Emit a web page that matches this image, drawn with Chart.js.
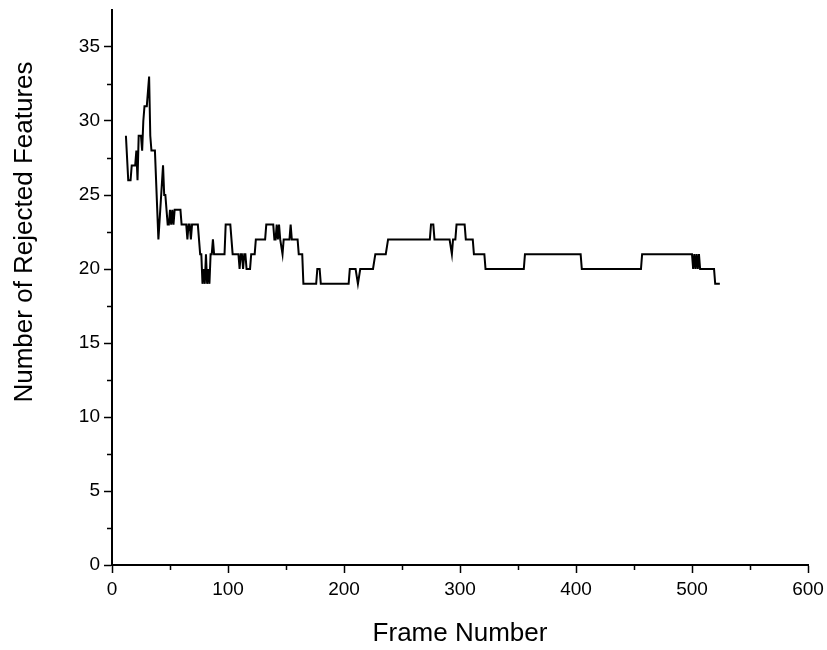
<!DOCTYPE html>
<html>
<head>
<meta charset="utf-8">
<script src="https://cdn.jsdelivr.net/npm/chart.js@4.4.1/dist/chart.umd.min.js"></script>
<style>
  html, body { margin: 0; padding: 0; background: #fff; }
  #wrap { width: 827px; height: 650px; }
</style>
</head>
<body>
<div id="wrap"><canvas id="c" width="827" height="650"></canvas></div>
<script>
// ---- Data ----
const frames = [
  12, 14, 16, 17, 20, 21, 22, 23, 25, 26, 27, 28, 30, 32, 33, 34, 37, 40, 44, 45,
  46, 47, 48, 49, 50, 51, 52, 53, 54, 59, 60, 64, 65, 66, 67, 68, 69, 74, 76, 77,
  78, 79, 80, 81, 82, 83, 84, 85, 86, 87, 88, 97, 98, 102, 104, 109, 110, 111, 112, 113,
  114, 115, 116, 119, 120, 123, 124, 132, 133, 139, 140, 141, 142, 143, 144, 145, 147, 148, 153, 154,
  155, 160, 161, 164, 165, 176, 177, 179, 180, 204, 205, 210, 212, 214, 225, 227, 236, 238, 274, 275,
  277, 278, 291, 293, 294, 296, 297, 304, 305, 311, 312, 321, 322, 355, 356, 404, 405, 456, 457, 500,
  501, 502, 503, 504, 505, 506, 507, 519, 520, 524
];
const rejected = [
  29, 26, 26, 27, 27, 28, 26, 29, 29, 28, 30, 31, 31, 33, 29, 28, 28, 22, 27, 25,
  25, 24, 23, 23, 24, 23, 24, 23, 24, 24, 23, 23, 22, 23, 23, 22, 23, 23, 21, 21,
  19, 20, 19, 21, 19, 20, 19, 21, 21, 22, 21, 21, 23, 23, 21, 21, 20, 21, 21, 20,
  21, 21, 20, 20, 21, 21, 22, 22, 23, 23, 22, 22, 23, 22, 23, 22, 21, 22, 22, 23,
  22, 22, 21, 21, 19, 19, 20, 20, 19, 19, 20, 20, 19, 20, 20, 21, 21, 22, 22, 23,
  23, 22, 22, 21, 22, 22, 23, 23, 22, 22, 21, 21, 20, 20, 21, 21, 20, 20, 21, 21,
  20, 21, 20, 21, 20, 21, 20, 20, 19, 19
];
const xTickValues = [0, 100, 200, 300, 400, 500, 600];
const xMinorTicks = [50, 150, 250, 350, 450, 550];
const yTickValues = [0, 5, 10, 15, 20, 25, 30, 35];
const yMinorTicks = [2.5, 7.5, 12.5, 17.5, 22.5, 27.5, 32.5];
const xTitle = 'Frame Number';
const yTitle = 'Number of Rejected Features';

const FONT = '"Liberation Sans", Arial, sans-serif';

// minor ticks drawn through the scales
const minorTicks = {
  id: 'minorTicks',
  afterDraw(chart) {
    const ctx = chart.ctx;
    const xs = chart.scales.x, ys = chart.scales.y;
    ctx.save();
    ctx.strokeStyle = '#000';
    ctx.lineWidth = 1.5;
    ctx.beginPath();
    xMinorTicks.forEach(v => {
      const px = Math.round(xs.getPixelForValue(v)) + 0.5;
      ctx.moveTo(px, ys.bottom);
      ctx.lineTo(px, ys.bottom + 5);
    });
    yMinorTicks.forEach(v => {
      const py = Math.round(ys.getPixelForValue(v)) + 0.5;
      ctx.moveTo(xs.left, py);
      ctx.lineTo(xs.left - 5, py);
    });
    ctx.stroke();
    ctx.restore();
  }
};

// y axis title (placed as in the reference, slightly above centre)
const yTitlePlugin = {
  id: 'yTitlePlugin',
  afterDraw(chart) {
    const ctx = chart.ctx;
    const a = chart.chartArea;
    ctx.save();
    ctx.fillStyle = '#000';
    ctx.font = '26px ' + FONT;
    ctx.textAlign = 'center';
    ctx.textBaseline = 'alphabetic';
    ctx.translate(32, a.top + (a.bottom - a.top) * 0.4);
    ctx.rotate(-Math.PI / 2);
    ctx.fillText(yTitle, 0, 0);
    ctx.restore();
  }
};

new Chart(document.getElementById('c'), {
  type: 'line',
  data: {
    datasets: [{
      data: frames.map((f, i) => ({ x: f, y: rejected[i] })),
      borderColor: '#000',
      borderWidth: 2,
      pointRadius: 0,
      tension: 0,
      fill: false
    }]
  },
  options: {
    responsive: false,
    animation: false,
    devicePixelRatio: 1,
    layout: { padding: { left: 0, right: 19, top: 10, bottom: 0 } },
    plugins: { legend: { display: false }, tooltip: { enabled: false } },
    scales: {
      x: {
        type: 'linear',
        min: 0, max: 600,
        afterBuildTicks: s => { s.ticks = xTickValues.map(v => ({ value: v })); },
        afterFit: s => { s.height = 85; s.paddingLeft = 0; s.paddingRight = 0; },
        grid: { display: true, drawOnChartArea: false, drawTicks: true, tickLength: 8, tickColor: '#000', tickWidth: 1.5 },
        border: { display: true, color: '#000', width: 2 },
        ticks: { color: '#000', font: { family: FONT, size: 19 }, padding: 5, maxRotation: 0, autoSkip: false },
        title: { display: true, text: xTitle, color: '#000', font: { family: FONT, size: 26 }, padding: { top: 0, bottom: 1 } }
      },
      y: {
        type: 'linear',
        min: 0, max: 37.5,
        afterBuildTicks: s => { s.ticks = yTickValues.map(v => ({ value: v })); },
        afterFit: s => { s.width = 112; s.paddingTop = 0; s.paddingBottom = 0; },
        grid: { display: true, drawOnChartArea: false, drawTicks: true, tickLength: 8, tickColor: '#000', tickWidth: 1.5 },
        border: { display: true, color: '#000', width: 2 },
        ticks: { color: '#000', font: { family: FONT, size: 19 }, padding: 4, autoSkip: false },
        title: { display: false }
      }
    }
  },
  plugins: [minorTicks, yTitlePlugin]
});
</script>
</body>
</html>
